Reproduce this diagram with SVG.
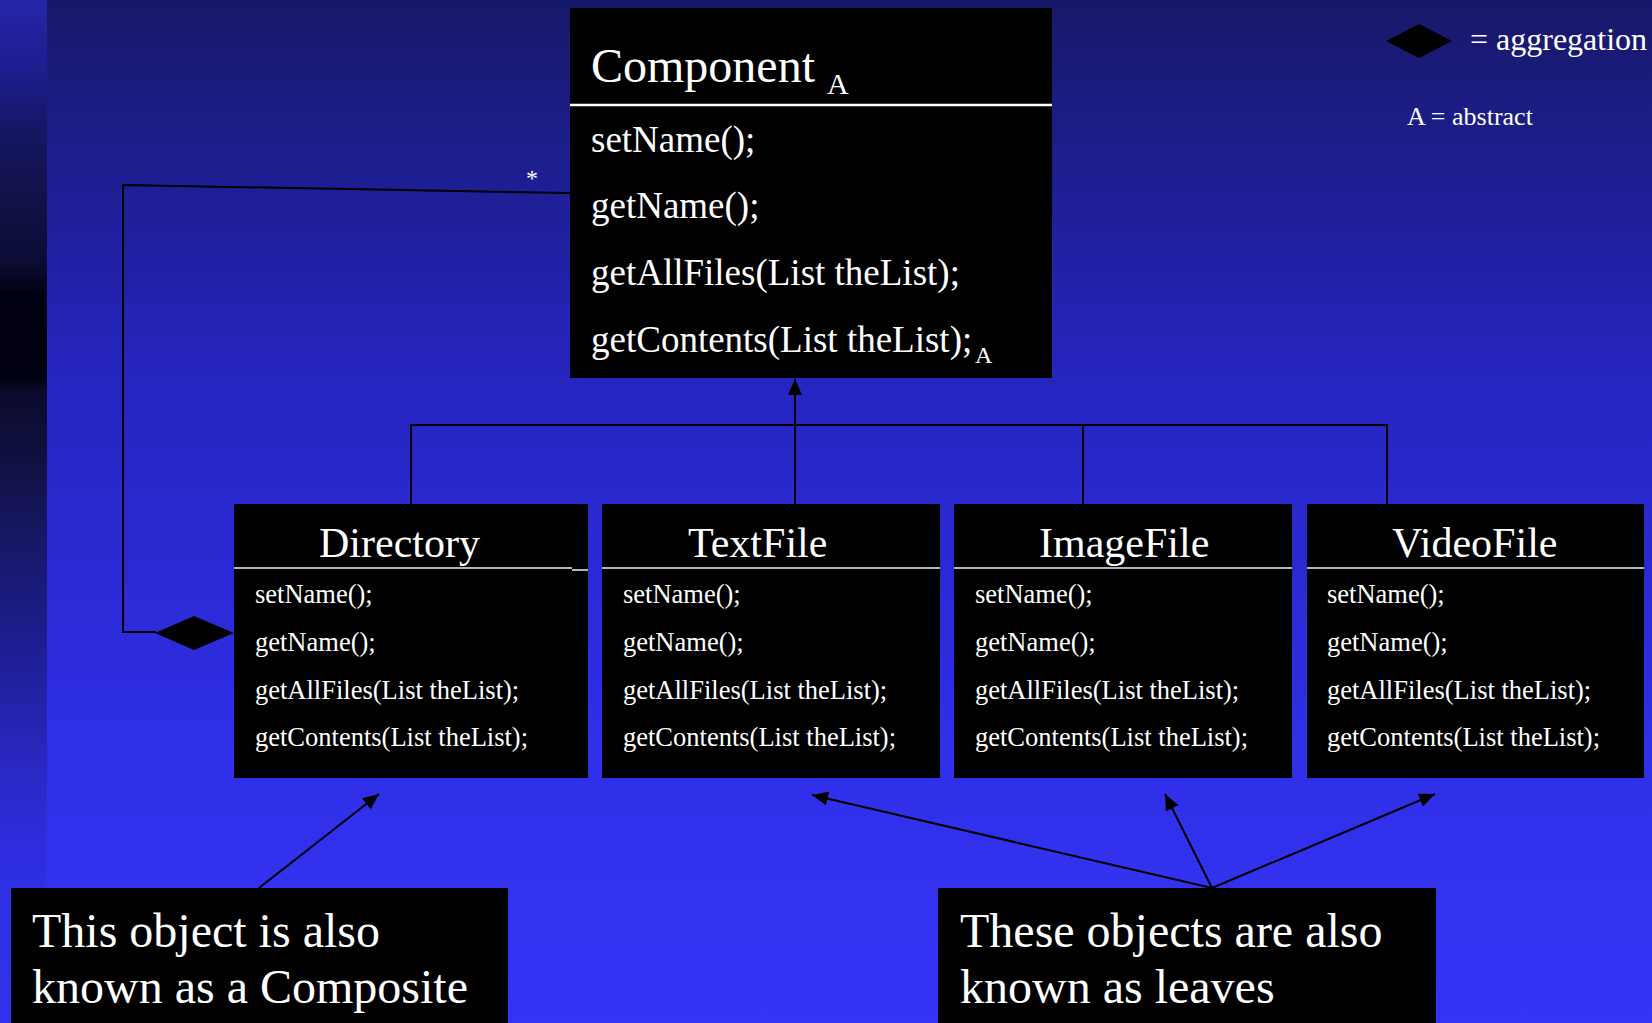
<svg xmlns="http://www.w3.org/2000/svg" width="1652" height="1023" viewBox="0 0 1652 1023">
  <defs>
    <linearGradient id="bgMain" x1="0" y1="0" x2="0" y2="1">
      <stop offset="0" stop-color="#18186a"/>
      <stop offset="0.37" stop-color="#2525c0"/>
      <stop offset="0.76" stop-color="#3030ea"/>
      <stop offset="1" stop-color="#3434f6"/>
    </linearGradient>
    <linearGradient id="bgStrip" x1="0" y1="0" x2="0" y2="1">
      <stop offset="0" stop-color="#2525aa"/>
      <stop offset="0.064" stop-color="#1e1e90"/>
      <stop offset="0.127" stop-color="#161665"/>
      <stop offset="0.19" stop-color="#12124a"/>
      <stop offset="0.255" stop-color="#0c0c35"/>
      <stop offset="0.29" stop-color="#000010"/>
      <stop offset="0.37" stop-color="#000010"/>
      <stop offset="0.382" stop-color="#0b0b2c"/>
      <stop offset="0.447" stop-color="#101040"/>
      <stop offset="0.51" stop-color="#161660"/>
      <stop offset="0.574" stop-color="#1a1a78"/>
      <stop offset="0.637" stop-color="#1e1e95"/>
      <stop offset="0.702" stop-color="#2424b0"/>
      <stop offset="0.765" stop-color="#2a2ac8"/>
      <stop offset="0.83" stop-color="#2e2ee0"/>
      <stop offset="1" stop-color="#3232ee"/>
    </linearGradient>
    <marker id="arrow" viewBox="0 0 16 14" markerUnits="userSpaceOnUse" markerWidth="16" markerHeight="14" refX="16" refY="7" orient="auto">
      <path d="M0,0 L16,7 L0,14 z" fill="#000"/>
    </marker>
  </defs>
  <style>
    text { font-family: "Liberation Serif", "Times New Roman", serif; fill: #ffffff; }
    .box { fill: #000000; }
    .sepBig { stroke: #ffffff; stroke-width: 2.5; }
    .sep { stroke: #f0f0f0; stroke-width: 1.5; }
    .title { font-size: 48px; }
    .cls { font-size: 42px; }
    .m37 { font-size: 37px; }
    .m26 { font-size: 26.5px; }
    .note { font-size: 48px; }
    .wire { fill: none; stroke: #000000; stroke-width: 2; }
  </style>

  <!-- background -->
  <rect x="0" y="0" width="1652" height="1023" fill="url(#bgMain)"/>
  <rect x="0" y="0" width="47" height="1023" fill="url(#bgStrip)"/>

  <!-- legend -->
  <g id="legend">
    <polygon points="1386,41 1419,24 1452,41 1419,58" fill="#000"/>
    <text x="1470" y="50" font-size="32">= aggregation</text>
    <text x="1407" y="125" font-size="26">A = abstract</text>
  </g>

  <!-- connectors -->
  <g id="connectors">
    <!-- aggregation: Directory holds many Components -->
    <polyline class="wire" points="570,193 123,185 123,632 156,632"/>
    <polygon points="155,633 194,616 234,633 194,650" fill="#000"/>
    <text x="532" y="186" font-size="24" text-anchor="middle">*</text>
    <!-- inheritance bus -->
    <polyline class="wire" points="411,504 411,425 1387,425 1387,504"/>
    <line class="wire" x1="1083" y1="425" x2="1083" y2="504"/>
    <line class="wire" x1="795" y1="504" x2="795" y2="379" marker-end="url(#arrow)"/>
    <!-- callout pointers -->
    <line class="wire" x1="259" y1="888" x2="379" y2="794" marker-end="url(#arrow)"/>
    <line class="wire" x1="1212" y1="888" x2="812" y2="795" marker-end="url(#arrow)"/>
    <line class="wire" x1="1212" y1="888" x2="1165" y2="794" marker-end="url(#arrow)"/>
    <line class="wire" x1="1212" y1="888" x2="1435" y2="794" marker-end="url(#arrow)"/>
  </g>

  <!-- abstract base class -->
  <g id="component">
    <rect class="box" x="570" y="8" width="482" height="370"/>
    <line class="sepBig" x1="570" y1="105" x2="1052" y2="105"/>
    <text class="title" x="591" y="82">Component</text>
    <text x="827" y="94" font-size="30">A</text>
    <text class="m37" x="591" y="152">setName();</text>
    <text class="m37" x="591" y="218">getName();</text>
    <text class="m37" x="591" y="285">getAllFiles(List theList);</text>
    <text class="m37" x="591" y="352">getContents(List theList);</text>
    <text x="975" y="363" font-size="24">A</text>
  </g>

  <g id="directory">
    <rect class="box" x="234" y="504" width="354" height="274"/>
    <line class="sep" x1="234" y1="568" x2="572" y2="568"/>
    <line class="sep" x1="572" y1="570" x2="588" y2="570"/>
    <text class="cls" x="319" y="557">Directory</text>
    <text class="m26" x="255" y="603">setName();</text>
    <text class="m26" x="255" y="651">getName();</text>
    <text class="m26" x="255" y="699">getAllFiles(List theList);</text>
    <text class="m26" x="255" y="746">getContents(List theList);</text>
  </g>

  <g id="textfile">
    <rect class="box" x="602" y="504" width="338" height="274"/>
    <line class="sep" x1="602" y1="568" x2="940" y2="568"/>
    <text class="cls" x="688" y="557">TextFile</text>
    <text class="m26" x="623" y="603">setName();</text>
    <text class="m26" x="623" y="651">getName();</text>
    <text class="m26" x="623" y="699">getAllFiles(List theList);</text>
    <text class="m26" x="623" y="746">getContents(List theList);</text>
  </g>

  <g id="imagefile">
    <rect class="box" x="954" y="504" width="338" height="274"/>
    <line class="sep" x1="954" y1="568" x2="1292" y2="568"/>
    <text class="cls" x="1039" y="557">ImageFile</text>
    <text class="m26" x="975" y="603">setName();</text>
    <text class="m26" x="975" y="651">getName();</text>
    <text class="m26" x="975" y="699">getAllFiles(List theList);</text>
    <text class="m26" x="975" y="746">getContents(List theList);</text>
  </g>

  <g id="videofile">
    <rect class="box" x="1307" y="504" width="337" height="274"/>
    <line class="sep" x1="1307" y1="568" x2="1644" y2="568"/>
    <text class="cls" x="1392" y="557">VideoFile</text>
    <text class="m26" x="1327" y="603">setName();</text>
    <text class="m26" x="1327" y="651">getName();</text>
    <text class="m26" x="1327" y="699">getAllFiles(List theList);</text>
    <text class="m26" x="1327" y="746">getContents(List theList);</text>
  </g>

  <!-- explanatory notes -->
  <g id="note-composite">
    <rect class="box" x="11" y="888" width="497" height="140"/>
    <text class="note" x="32" y="947">This object is also</text>
    <text class="note" x="32" y="1003">known as a Composite</text>
  </g>

  <g id="note-leaves">
    <rect class="box" x="938" y="888" width="498" height="140"/>
    <text class="note" x="960" y="947">These objects are also</text>
    <text class="note" x="960" y="1003">known as leaves</text>
  </g>
</svg>
